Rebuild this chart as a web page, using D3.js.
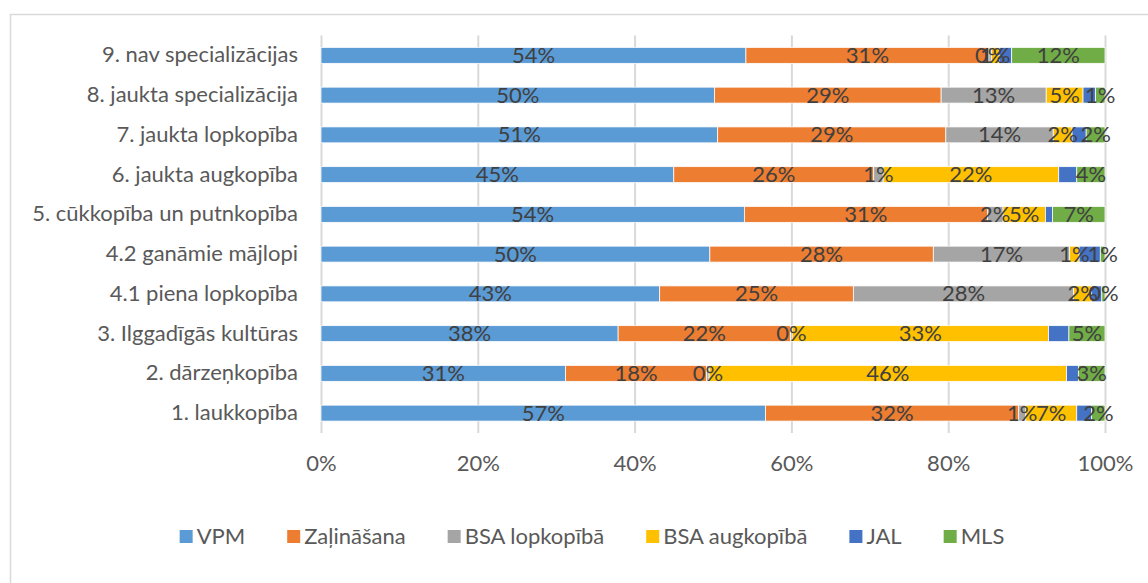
<!DOCTYPE html>
<html>
<head>
<meta charset="utf-8">
<script src="https://cdn.jsdelivr.net/npm/d3@7"></script>
<style>
  body { margin: 0; background: #fff; }
  svg text { font-family: Lato, "Open Sans", sans-serif; }
</style>
</head>
<body>
<svg id="chart" width="1148" height="583"></svg>
<script>
// categories, top row first
var categories = [
	'9. nav specializācijas',
	'8. jaukta specializācija',
	'7. jaukta lopkopība',
	'6. jaukta augkopība',
	'5. cūkkopība un putnkopība',
	'4.2 ganāmie mājlopi',
	'4.1 piena lopkopība',
	'3. Ilggadīgās kultūras',
	'2. dārzeņkopība',
	'1. laukkopība'
];

var seriesNames = [ 'VPM', 'Zaļināšana', 'BSA lopkopībā', 'BSA augkopībā', 'JAL', 'MLS' ];
var seriesColors = [ '#5b9bd5', '#ed7d31', '#a5a5a5', '#ffc000', '#4472c4', '#70ad47' ];

// shares in %, one array per series, same order as categories
var vpm        = [ 54.2, 50.2, 50.6, 45.0, 54.0, 49.6, 43.2, 37.9, 31.2, 56.7 ];
var zalinasana = [ 31.0, 28.9, 29.1, 25.5, 31.0, 28.5, 24.7, 22.0, 18.0, 32.3 ];
var bsaLop     = [  0.3, 13.4, 13.7,  1.2,  2.0, 17.4, 28.1,  0.2,  0.3,  0.9 ];
var bsaAug     = [  1.0,  4.7,  2.4, 22.4,  5.4,  1.2,  2.3, 32.7, 45.6,  6.5 ];
var jal        = [  1.6,  1.6,  1.8,  2.3,  0.9,  2.7,  1.3,  2.6,  1.5,  1.9 ];
var mls        = [ 11.9,  1.2,  2.4,  3.6,  6.7,  0.6,  0.4,  4.6,  3.4,  1.7 ];

var xTicks = [ 0, 20, 40, 60, 80, 100 ];

var seriesValues = [ vpm, zalinasana, bsaLop, bsaAug, jal, mls ];
// Excel hides the JAL data labels in the original
var showLabel = [ true, true, true, true, false, true ];

var svg = d3.select( '#chart' );

svg.append( 'rect' )
	.attr( 'x', 10.5 ).attr( 'y', 14.5 )
	.attr( 'width', 1160 ).attr( 'height', 600 )
	.attr( 'fill', '#fff' )
	.attr( 'stroke', '#d9d9d9' )
	.attr( 'stroke-width', 1.5 );

var plotTop = 35.5,
	plotBottom = 433;

var x = d3.scaleLinear().domain( [ 0, 100 ] ).range( [ 321, 1105 ] );
var y = d3.scaleBand().domain( categories ).range( [ plotTop, plotBottom ] )
	.paddingInner( 0.6 ).paddingOuter( 0.3 );

// gridlines + tick labels
var xAxis = svg.append( 'g' )
	.attr( 'transform', 'translate(0,' + plotBottom + ')' )
	.call( d3.axisBottom( x )
		.tickValues( xTicks )
		.tickFormat( function( d ) { return d + '%'; } )
		.tickSizeInner( -( plotBottom - plotTop ) )
		.tickSizeOuter( 0 )
		.tickPadding( 22 ) );
xAxis.select( '.domain' ).remove();
xAxis.selectAll( 'line' ).attr( 'stroke', '#d9d9d9' ).attr( 'stroke-width', 2 );
xAxis.selectAll( 'text' )
	.attr( 'fill', '#595959' )
	.style( 'font-size', '22px' );

// stacked segments
var rows = categories.map( function( cat, i ) {
	var row = { category: cat };
	seriesNames.forEach( function( s, j ) { row[ s ] = seriesValues[ j ][ i ]; } );
	return row;
} );
var stacked = d3.stack().keys( seriesNames )( rows );

svg.append( 'g' ).selectAll( 'g' )
	.data( stacked )
	.join( 'g' )
	.attr( 'fill', function( d, j ) { return seriesColors[ j ]; } )
	.selectAll( 'rect' )
	.data( function( d ) { return d; } )
	.join( 'rect' )
	.attr( 'x', function( d ) { return x( d[ 0 ] ); } )
	.attr( 'y', function( d ) { return y( d.data.category ); } )
	.attr( 'width', function( d ) { return x( d[ 1 ] ) - x( d[ 0 ] ); } )
	.attr( 'height', y.bandwidth() )
	.attr( 'stroke', '#fff' )
	.attr( 'stroke-width', 0.75 );

// data labels, drawn above every bar
svg.append( 'g' ).selectAll( 'g' )
	.data( stacked.filter( function( d, j ) { return showLabel[ j ]; } ) )
	.join( 'g' )
	.selectAll( 'text' )
	.data( function( d ) { return d; } )
	.join( 'text' )
	.attr( 'x', function( d ) { return x( ( d[ 0 ] + d[ 1 ] ) / 2 ); } )
	.attr( 'y', function( d ) { return y( d.data.category ) + y.bandwidth() / 2; } )
	.attr( 'dy', '0.34em' )
	.attr( 'text-anchor', 'middle' )
	.attr( 'fill', '#404040' )
	.style( 'font-size', '22px' )
	.text( function( d ) { return Math.round( d[ 1 ] - d[ 0 ] ) + '%'; } );

// category labels
var yAxis = svg.append( 'g' )
	.attr( 'transform', 'translate(321,0)' )
	.call( d3.axisLeft( y ).tickSize( 0 ).tickPadding( 23 ) );
yAxis.select( '.domain' ).remove();
yAxis.selectAll( 'text' )
	.attr( 'fill', '#595959' )
	.style( 'font-size', '22px' );

// legend, centred under the plot
var legend = svg.append( 'g' );
var items = legend.selectAll( 'g' )
	.data( seriesNames )
	.join( 'g' );
items.append( 'rect' )
	.attr( 'y', 530 ).attr( 'width', 13 ).attr( 'height', 13 )
	.attr( 'fill', function( d, j ) { return seriesColors[ j ]; } );
items.append( 'text' )
	.attr( 'x', 17 ).attr( 'y', 544 )
	.attr( 'fill', '#595959' )
	.style( 'font-size', '22px' )
	.text( function( d ) { return d; } );

var pos = 0;
items.each( function() {
	var w = this.getBBox().width;
	d3.select( this ).attr( 'transform', 'translate(' + pos + ',0)' );
	pos += w + 42;
} );
var total = pos - 42;
legend.attr( 'transform', 'translate(' + ( 592 - total / 2 ) + ',0)' );
</script>
</body>
</html>
